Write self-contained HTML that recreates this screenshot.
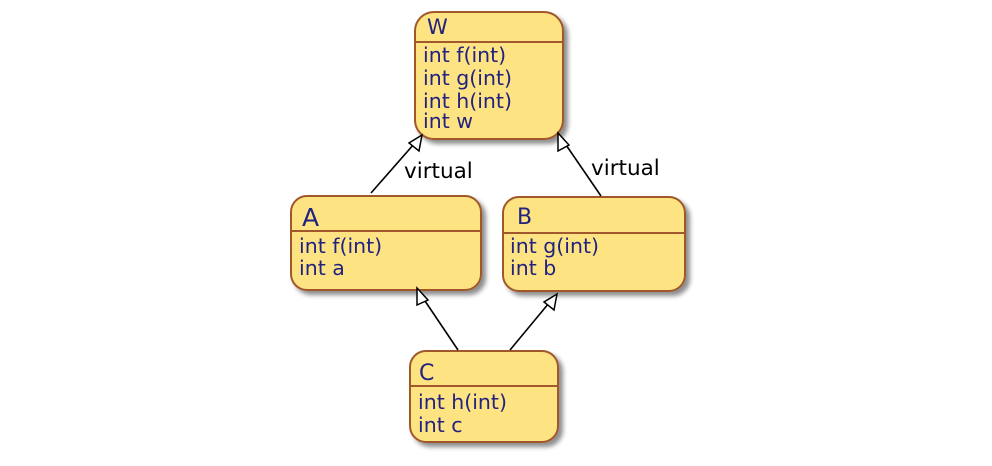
<!DOCTYPE html>
<html><head><style>body{margin:0;background:#fff}svg{display:block}</style></head><body>
<svg width="992" height="466" xmlns="http://www.w3.org/2000/svg" font-family="DejaVu Sans, Liberation Sans, sans-serif">
<defs><filter id="s" x="-20%" y="-20%" width="150%" height="150%"><feGaussianBlur in="SourceAlpha" stdDeviation="2.5"/><feOffset dx="4" dy="4"/><feComponentTransfer><feFuncA type="linear" slope="0.45"/></feComponentTransfer><feMerge><feMergeNode/><feMergeNode in="SourceGraphic"/></feMerge></filter></defs>
<g fill="#FEE382" stroke="#A0582C" stroke-width="2" filter="url(#s)">
<rect x="415" y="12" width="148" height="127" rx="19"/>
<rect x="291" y="196" width="190" height="94" rx="16"/>
<rect x="503" y="197" width="182" height="94" rx="16"/>
<rect x="410" y="351" width="148" height="91" rx="16"/>
</g>
<g stroke="#A0582C" stroke-width="2">
<line x1="416" y1="42" x2="562" y2="42"/>
<line x1="292" y1="231" x2="480" y2="231"/>
<line x1="504" y1="233" x2="684" y2="233"/>
<line x1="411" y1="386" x2="557" y2="386"/>
</g>
<g fill="#222280" font-size="20.5">
<text x="427" y="34" font-size="21">W</text>
<text x="423" y="62">int f(int)</text>
<text x="423" y="85">int g(int)</text>
<text x="423" y="108">int h(int)</text>
<text x="423" y="128">int w</text>
<text x="302" y="226" font-size="25">A</text>
<text x="299" y="253">int f(int)</text>
<text x="299" y="275">int a</text>
<text x="517" y="224" font-size="22">B</text>
<text x="510" y="253">int g(int)</text>
<text x="510" y="275">int b</text>
<text x="419" y="380" font-size="22">C</text>
<text x="418" y="409">int h(int)</text>
<text x="418" y="432">int c</text>
</g>
<g stroke="#000" stroke-width="1.6" fill="none">
<line x1="371" y1="193" x2="414" y2="144"/>
<line x1="601" y1="196" x2="564" y2="142"/>
<line x1="458" y1="350" x2="423" y2="298"/>
<line x1="510" y1="350" x2="549" y2="303"/>
</g>
<g stroke="#000" stroke-width="1.5" fill="#fff">
<polygon points="422,135 419,151 409,143"/>
<polygon points="558,133 569,145 558,151"/>
<polygon points="417,288 428,300 417,305"/>
<polygon points="557,294 554,310 544,302"/>
</g>
<g fill="#000" font-size="21.5">
<text x="404" y="178">virtual</text>
<text x="591" y="175">virtual</text>
</g>
</svg>
</body></html>
